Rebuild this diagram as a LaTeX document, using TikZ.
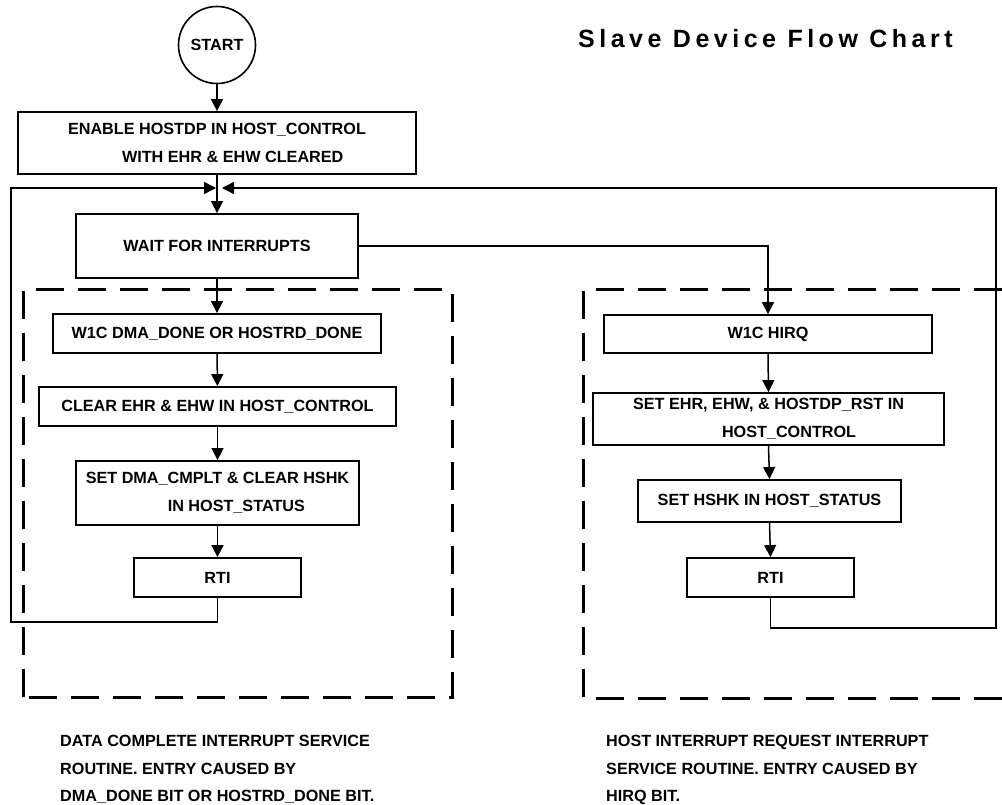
\documentclass[tikz,border=0pt]{standalone}
\usepackage{fontspec}
\setmainfont{Liberation Sans}
\newfontfamily\titlefont[LetterSpace=18]{Liberation Sans}
\usetikzlibrary{arrows.meta}
\begin{document}
\begin{tikzpicture}[x=1pt,y=-1pt,
  every node/.style={font=\fontsize{16.2}{27.5}\selectfont\bfseries},
  procbox/.style={draw,line width=1.8pt,rectangle,inner sep=0pt,align=center},
  twoline/.style={procbox,align=left},
  conn/.style={line width=1.5pt},
  arr/.style={conn,-{Triangle[length=12pt,width=12pt]}},
  region/.style={line width=3pt,dash pattern=on 28pt off 14pt}]
\useasboundingbox (0,0) rectangle (1002,805);

% title
\node (title) [anchor=base west,inner sep=0pt,font=\fontsize{25}{30}\selectfont\titlefont\bfseries] at (578,48) {Slave Device Flow Chart};

% dashed regions
\draw[region] (23,697) -- (23,290) -- (452,290) -- (452,697) -- cycle;
\draw[region] (1002,290) -- (583,290) -- (583,698) -- (1002,698);

% nodes
\node (start) [draw,circle,line width=1.6pt,minimum size=77pt,inner sep=0pt] at (217,45) {START};
\node (enable) [twoline,minimum width=398pt,minimum height=62pt] at (217,143)
  {ENABLE HOSTDP IN HOST\_CONTROL\\\hspace*{54pt}WITH EHR \& EHW CLEARED};
\node (wait) [procbox,minimum width=282pt,minimum height=64pt] at (217,246) {WAIT FOR INTERRUPTS};

\node (w1cdma) [procbox,minimum width=328pt,minimum height=39pt] at (217,333.5) {W1C DMA\_DONE OR HOSTRD\_DONE};
\node (clear) [procbox,minimum width=357pt,minimum height=39pt] at (217.5,406.5) {CLEAR EHR \& EHW IN HOST\_CONTROL};
\node (setdma) [twoline,minimum width=283pt,minimum height=64pt] at (217.5,493)
  {SET DMA\_CMPLT \& CLEAR HSHK\\\hspace*{82pt}IN HOST\_STATUS};
\node (rtiL) [procbox,minimum width=167pt,minimum height=39pt] at (217.5,577.5) {RTI};

\node (w1chirq) [procbox,minimum width=328pt,minimum height=38pt] at (768,334) {W1C HIRQ};
\node (setehr) [twoline,minimum width=351pt,minimum height=52pt] at (768.5,419)
  {SET EHR, EHW, \& HOSTDP\_RST IN\\\hspace*{89pt}HOST\_CONTROL};
\node (sethshk) [procbox,minimum width=263pt,minimum height=42pt] at (769.5,501) {SET HSHK IN HOST\_STATUS};
\node (rtiR) [procbox,minimum width=167pt,minimum height=39pt] at (770.5,577.5) {RTI};

% notes
\node (noteL) [anchor=north west,inner sep=0pt,align=left] at (60,735.3)
  {DATA COMPLETE INTERRUPT SERVICE\\ROUTINE. ENTRY CAUSED BY\\DMA\_DONE BIT OR HOSTRD\_DONE BIT.};
\node (noteR) [anchor=north west,inner sep=0pt,align=left] at (606,735.3)
  {HOST INTERRUPT REQUEST INTERRUPT\\SERVICE ROUTINE. ENTRY CAUSED BY\\HIRQ BIT.};

% coordinates
\coordinate (mL) at (216,188);
\coordinate (mR) at (222,188);
\coordinate (lb) at (11,622);
\coordinate (rb) at (996,628);

% connectors
\draw[arr] (start) -- (enable);
\draw[arr] (enable) -- (wait);
\draw[arr] (wait) -- (w1cdma);
\draw[arr] (w1cdma) -- (clear);
\draw[arr] (clear) -- (setdma);
\draw[arr] (setdma) -- (rtiL);
\draw[arr] (rtiL.south) |- (lb) |- (mL);

\draw[arr] (wait.east) -| (w1chirq.north);
\draw[arr] (w1chirq.south) -- (setehr.north);
\draw[arr] (setehr.south) -- (sethshk.north);
\draw[arr] (sethshk.south) -- (rtiR.north);
\draw[arr] (rtiR.south) |- (rb) |- (mR);
\end{tikzpicture}
\end{document}
